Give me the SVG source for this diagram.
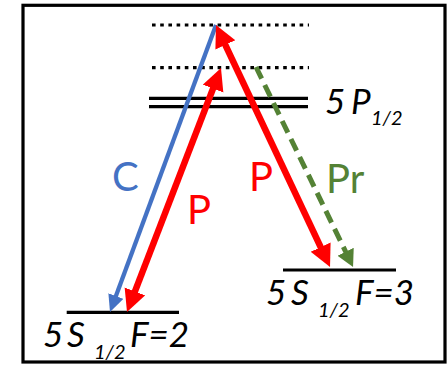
<svg xmlns="http://www.w3.org/2000/svg" width="448" height="365" viewBox="0 0 448 365">
  <style>
    .frame { fill: #ffffff; stroke: #000000; stroke-width: 3.2; }
    .dotted { stroke: #000000; stroke-width: 3.2; stroke-dasharray: 3.6 4.6; fill: none; }
    .solid { stroke: #000000; stroke-width: 3.2; fill: none; }
    .red { stroke: #ff0000; stroke-width: 6.5; fill: none; }
    .blue { stroke: #4472c4; stroke-width: 4.3; fill: none; }
    .green { stroke: #548235; stroke-width: 5; fill: none; stroke-dasharray: 13 7; }
    .lbl { font-family: Lato, "Open Sans", "Liberation Sans", sans-serif; font-size: 40px; }
    .lvl { font-family: Lato, "Open Sans", "Liberation Sans", sans-serif; font-size: 35px; font-style: italic; fill: #000000; }
    .sub { font-family: Lato, "Open Sans", "Liberation Sans", sans-serif; font-size: 20px; font-style: italic; fill: #000000; }
  </style>
  <defs>
    <marker id="headRed" markerUnits="userSpaceOnUse" markerWidth="24" markerHeight="24" refX="2" refY="11" orient="auto-start-reverse">
      <path d="M0,0 L22,11 L0,22 Z" fill="#ff0000"/>
    </marker>
    <marker id="headBlue" markerUnits="userSpaceOnUse" markerWidth="20" markerHeight="20" refX="2" refY="8" orient="auto">
      <path d="M0,0 L17,8 L0,16 Z" fill="#4472c4"/>
    </marker>
    <marker id="headGreen" markerUnits="userSpaceOnUse" markerWidth="20" markerHeight="20" refX="2" refY="9" orient="auto">
      <path d="M0,0 L17,9 L0,18 Z" fill="#548235"/>
    </marker>
  </defs>

  <rect class="frame" x="23" y="5.3" width="422" height="356.7"/>

  <g id="level-virtual-top">
    <line class="dotted" x1="152" y1="25" x2="309" y2="25"/>
  </g>
  <g id="level-virtual-mid">
    <line class="dotted" x1="152" y1="67.7" x2="309" y2="67.7"/>
  </g>
  <g id="level-5P12">
    <line class="solid" x1="149" y1="98.3" x2="308" y2="98.3"/>
    <line class="solid" x1="149" y1="106.7" x2="308" y2="106.7"/>
    <text class="lvl" x="325" y="114">5</text>
    <text class="lvl" x="351" y="114">P</text>
    <text class="sub" x="371" y="125">1/2</text>
  </g>
  <g id="level-5S12-F2">
    <line class="solid" x1="66.7" y1="312.3" x2="179" y2="312.3"/>
    <text class="lvl" x="43" y="346.5">5</text>
    <text class="lvl" x="67" y="346.5">S</text>
    <text class="sub" x="94" y="358.5">1/2</text>
    <text class="lvl" x="130" y="346.5">F=2</text>
  </g>
  <g id="level-5S12-F3">
    <line class="solid" x1="283" y1="270" x2="396" y2="270"/>
    <text class="lvl" x="266" y="304.5">5</text>
    <text class="lvl" x="291" y="304.5">S</text>
    <text class="sub" x="318" y="316.5">1/2</text>
    <text class="lvl" x="355" y="304.5">F=3</text>
  </g>

  <g id="connectors">
    <line class="blue" x1="216" y1="25" x2="115.2" y2="297.9" marker-end="url(#headBlue)"/>
    <line class="red" x1="134.2" y1="293.3" x2="213.8" y2="86.7" marker-start="url(#headRed)" marker-end="url(#headRed)"/>
    <line class="red" x1="224.5" y1="43.1" x2="321.5" y2="248.9" marker-start="url(#headRed)" marker-end="url(#headRed)"/>
    <line class="green" x1="256" y1="67" x2="346.5" y2="253.5" marker-end="url(#headGreen)"/>
  </g>

  <g id="labels">
    <text class="lbl" x="112" y="190.7" fill="#4472c4">C</text>
    <text class="lbl" x="187" y="224" fill="#ff0000">P</text>
    <text class="lbl" x="249" y="190.7" fill="#ff0000">P</text>
    <text class="lbl" x="326" y="193" fill="#548235">Pr</text>
  </g>
</svg>
